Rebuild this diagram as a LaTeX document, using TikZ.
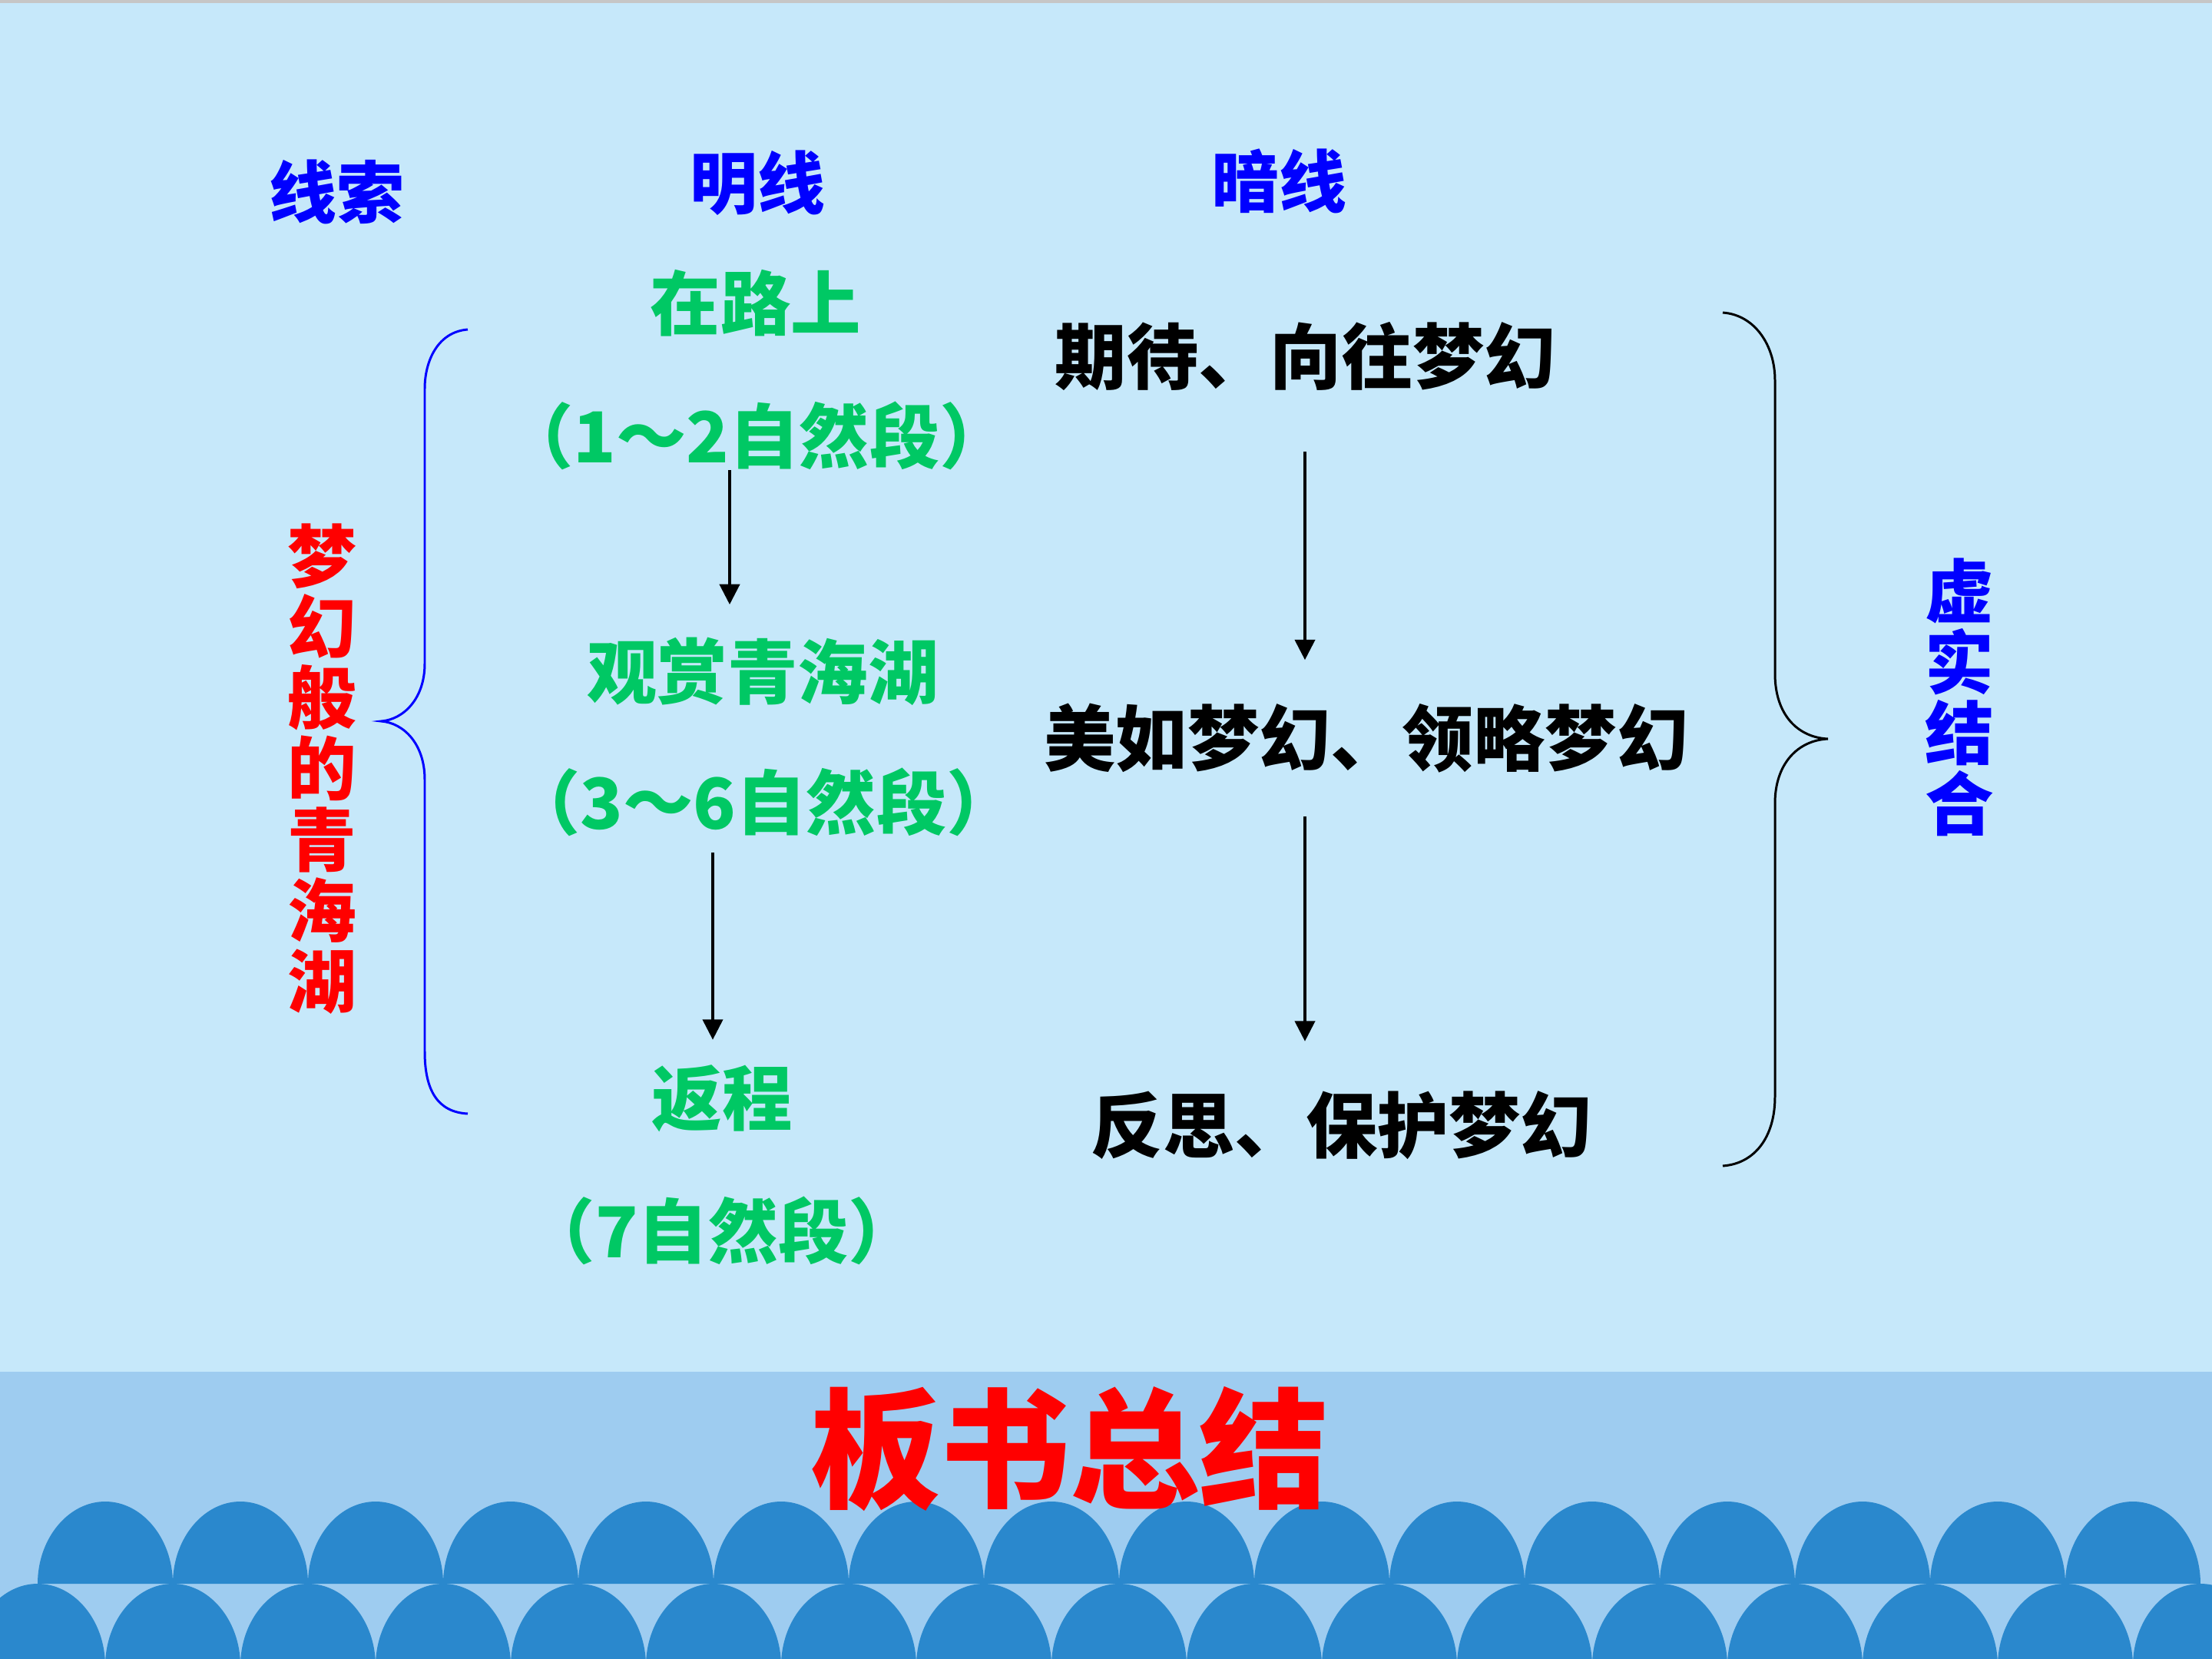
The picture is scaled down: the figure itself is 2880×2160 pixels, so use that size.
\documentclass[tikz,border=0pt]{standalone}
\usepackage{fontspec}
\setmainfont{Noto Sans CJK SC}
\usetikzlibrary{arrows.meta}
\definecolor{skyback}{RGB}{198,232,250}
\definecolor{bandblue}{RGB}{158,204,240}
\definecolor{wavedeep}{RGB}{42,136,205}
\definecolor{textgreen}{RGB}{0,200,100}
\begin{document}
\begin{tikzpicture}[x=0.01cm,y=-0.01cm,
	head/.style={inner sep=0,text=blue,font=\fontsize{25}{25}\selectfont\bfseries},
	mingx/.style={inner sep=0,text=textgreen,font=\fontsize{26}{26}\selectfont\bfseries},
	anx/.style={inner sep=0,text=black,font=\fontsize{26.5}{26.5}\selectfont\bfseries},
	upright/.style={inner sep=0,align=center,font=\fontsize{25.5}{26.2}\selectfont\bfseries},
	arr/.style={line width=0.9pt,-{Triangle[width=7.5pt,length=7.5pt]}}]
	\useasboundingbox (0,0) rectangle (2880,2160);
	\clip (0,0) rectangle (2880,2160);
	\fill[skyback] (0,0) rectangle (2880,2160);
	\fill[gray!45] (0,0) rectangle (2880,4);
	\fill[bandblue] (0,1786) rectangle (2880,2160);
	\foreach \k in {0,...,15} {
		\fill[wavedeep] ({49+176*\k},2062) .. controls +(0,-59) and +(-48,0) .. ++(88,-107) .. controls +(48,0) and +(0,-59) .. ++(88,107) -- cycle;}
	\foreach \k in {0,...,16} {
		\fill[wavedeep] ({-39+176*\k},2169) .. controls +(0,-59) and +(-48,0) .. ++(88,-107) .. controls +(48,0) and +(0,-59) .. ++(88,107) -- cycle;}

	\node[head] (xs) at (438,250) {线索};
	\node[head] (mx) at (986,238) {明线};
	\node[head] (ax) at (1665,236) {暗线};

	\node[mingx] (zl) at (984,395) {在路上};
	\node[mingx] (p12) at (985,567) {（1～2自然段）};
	\node[mingx] (gq) at (993,874) {观赏青海湖};
	\node[mingx] (p36) at (994,1044) {（3～6自然段）};
	\node[mingx] (fc) at (940,1430) {返程};
	\node[mingx] (p7) at (940,1602) {（7自然段）};

	\node[anx] (qd) at (1700,464) {期待、向往梦幻};
	\node[anx] (ml) at (1779,961) {美如梦幻、领略梦幻};
	\node[anx] (fs) at (1747,1465) {反思、保护梦幻};

	\node[upright,text=red] (mh) at (419,1001) {梦\\幻\\般\\的\\青\\海\\湖};
	\node[upright,text=blue] (xsj) at (2551,908) {虚\\实\\结\\合};
	\node[inner sep=0,text=red,font=\fontsize{48}{48}\selectfont\bfseries] (bs) at (1393,1887) {板书总结};

	\coordinate (lx1) at (950,0);
	\coordinate (lx2) at (928,0);
	\coordinate (rx) at (1699,0);
	\draw[arr,shorten >=0.42cm] (p12.south -| lx1) -- (gq.north -| lx1);
	\draw[arr,shorten <=0.21cm,shorten >=0.32cm] (p36.south -| lx2) -- (fc.north -| lx2);
	\draw[arr,shorten <=0.79cm,shorten >=0.56cm] (qd.south -| rx) -- (ml.north -| rx);
	\draw[arr,shorten <=0.56cm,shorten >=0.64cm] (ml.south -| rx) -- (fs.north -| rx);

	\draw[blue,line width=0.85pt] (609,429) .. controls (570,432) and (553,470) .. (553,506) -- (553,864)
		.. controls (553,910) and (525,937) .. (496,939) .. controls (525,941) and (553,968) .. (553,1015)
		-- (553,1369) .. controls (553,1420) and (570,1448) .. (609,1450);
	\draw[line width=0.85pt] (2243,407) .. controls (2285,410) and (2311,450) .. (2311,495) -- (2311,877)
		.. controls (2311,930) and (2340,960) .. (2380,962) .. controls (2340,964) and (2311,995) .. (2311,1046)
		-- (2311,1428) .. controls (2311,1480) and (2285,1515) .. (2243,1518);
\end{tikzpicture}
\end{document}
